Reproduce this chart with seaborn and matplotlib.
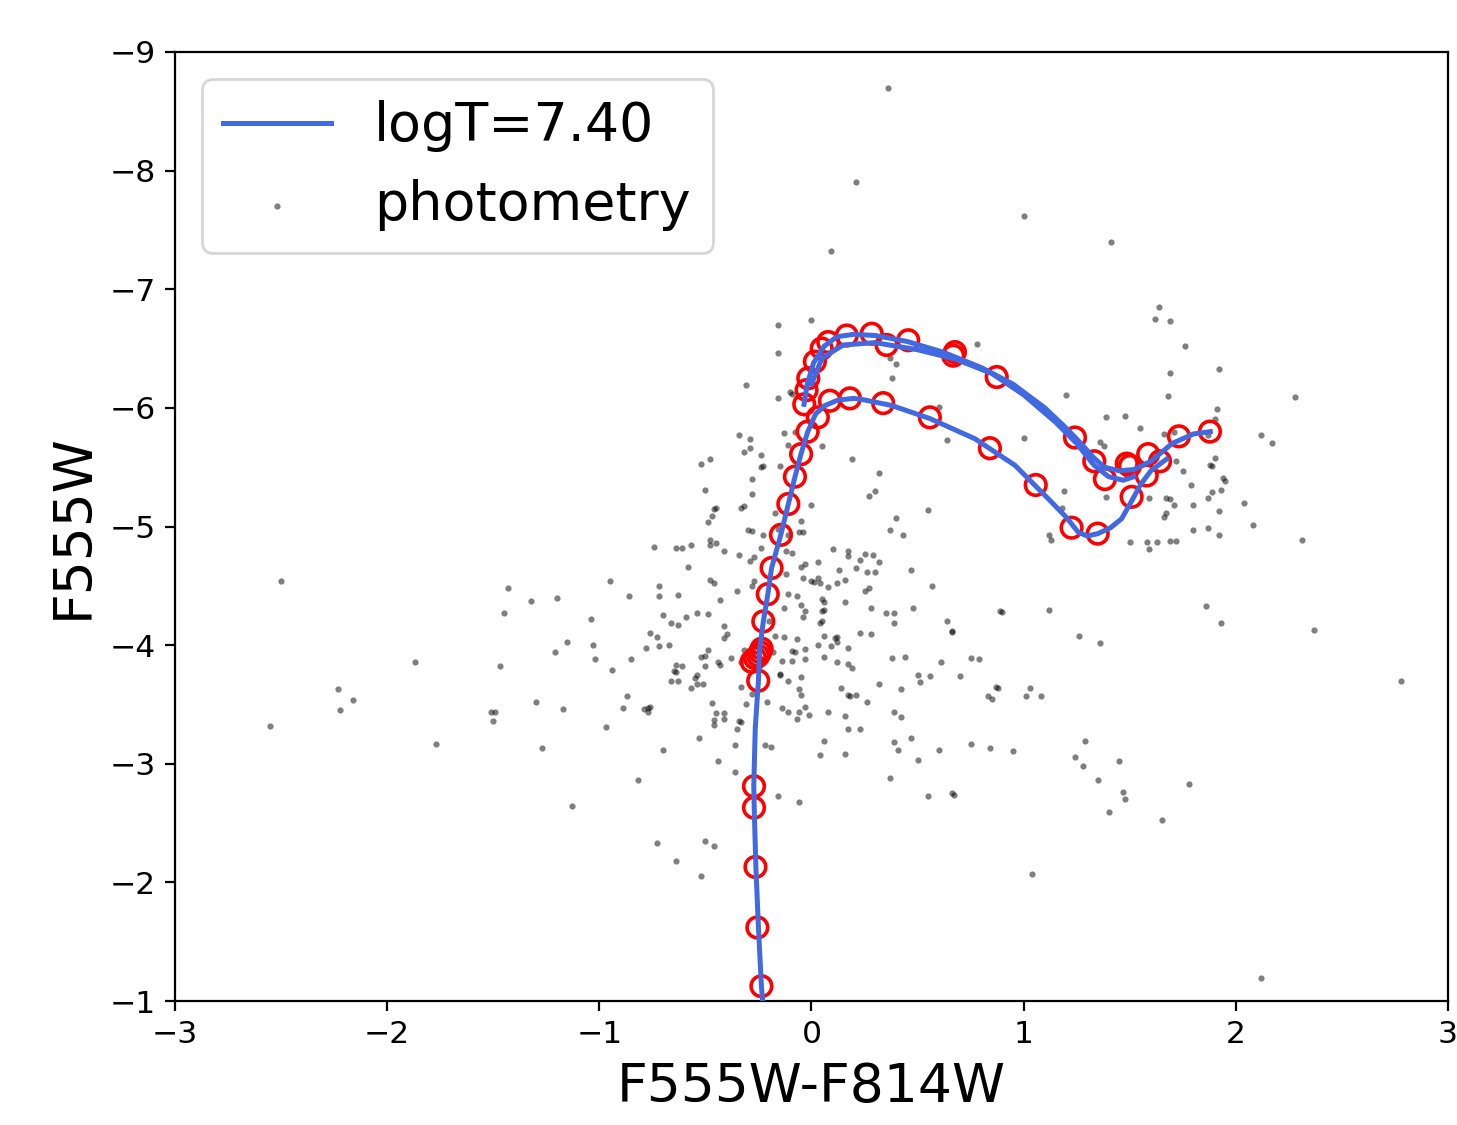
import matplotlib
matplotlib.use("Agg")
import matplotlib.pyplot as plt
import seaborn as sns

# photometry (colour, magnitude)
phot_x = [-0.16, 0.00, -0.16, 0.36, 0.21, 0.09, 1.00, 1.41, 0.78, 0.37, 0.40, 1.64, 1.62, 1.69, 1.76, 1.92, 1.69,
          -2.50, -1.87, -2.23, -2.16, -2.22, -2.55, -1.77, -1.51, -1.50, 1.78, 1.65, 2.12,
          1.68, 2.28, 1.91, 1.90, 1.55, 1.66, 1.71, 2.12, 2.17, 1.87, 1.90, 1.89, 1.88, 1.72, 1.75, 1.94, 1.95, 1.79,
          1.93, 1.89, 1.87, 1.59, 1.67, 1.69, 1.71, 1.80, 2.04, 1.92, 1.67, 1.66, 2.08, 2.31, 1.80, 1.87, 1.92, 1.58,
          1.59, 1.63, 1.69, 1.72, 1.86, 1.93, 2.37, 2.78,
          0.17, 0.18, 0.21, 0.26, 0.08, 0.16, 0.39, 0.42, 0.17, 0.23, 0.06, 0.39, 0.41, 0.47, 0.04, 0.16, 0.50, 0.60,
          0.37, 0.55, 0.66, 0.67, 0.75, 0.84, 0.95, 0.83, 0.85, 1.01, 1.08, 1.29, 1.24, 1.28, 1.45, 1.35, 1.47, 1.48,
          1.40, 1.04,
          -1.30, -1.17, -1.27, -1.13, -0.97, -0.89, -0.87, -0.79, -0.77, -0.76, -0.77, -0.70, -0.82, -0.73, -0.64,
          -0.50, -0.46, -0.52, -0.53, -0.44, -0.36, -0.36, -0.35, -0.33, -0.34, -0.47, -0.45, -0.46, -0.46, -0.41,
          -0.41, -0.31, -0.28, -0.21, -0.22, -0.19, -0.16, -0.06, -0.14, -0.11, -0.07, -0.06, -0.03, -0.01, -0.05,
          -1.49,
          -0.31, -0.16, -0.10, -0.09, -0.34, -0.29, -0.32, -0.29, -0.13, -0.08, -0.11, -0.24, -0.52, -0.48, -0.24,
          -0.23, -0.15, -0.28, -0.50, -0.28, -0.46, -0.45, -0.33, -0.32, -0.47, -0.49, 0.00, -0.05, -0.17, -0.30,
          -0.28, -0.23, -0.16, -0.11, -0.06, -0.04, -0.74, -0.64, -0.61, -0.57, -0.48, -0.48, -0.45, -0.41, -0.34,
          -0.27, -0.29, -0.24, -0.12, -0.09, -0.58, -0.05, -0.03, -0.04, -0.12, 0.00, 0.01, -0.27, -0.48, -0.46,
          -0.95, -0.72, -1.43, -1.32, -1.20, -0.86, -0.72, -0.63, -0.43, -0.35, -0.28, -0.11, -0.07, -0.13, -0.05,
          -0.03, -0.04, -1.45, -1.04, -0.70, -0.66, -0.63, -0.59, -0.54, -0.49, -0.41, -0.41, -0.40, -0.20, -0.17,
          -0.13, -0.07, -0.08, -0.09, -0.03, -1.15, -1.21, -1.03, -1.02, -1.47, -0.94, -0.85, -0.78, -0.76, -0.73,
          -0.72, -0.67, -0.64, -0.61, -0.64, -0.65, -0.66, -0.63, -0.57, -0.55, -0.54, -0.54, -0.51, -0.52, -0.50,
          -0.50, -0.49, -0.44, -0.43, -0.38, -0.33, -0.32, -0.33, -0.18, -0.14, -0.09, -0.03, -0.15, -0.15, -0.11,
          -0.05, -0.06,
          0.38, 0.60, 0.05, 0.19, 0.32, 0.30, 0.27, 0.64, 1.00, 1.20, 1.39, 1.48, 1.36, 1.38, 1.19, 1.18, 1.39, 0.55,
          0.40, 0.37, 0.43, 1.12, 1.13, 1.50, 0.10, 0.17, 0.17, 0.23, 0.25, 0.29, 0.32, 0.03, 0.13, 0.21, 0.26, 0.30,
          0.47, 0.03, 0.04, 0.08, 0.12, 0.16, 0.25, 0.27, 0.57, 0.05, 0.06, 0.16, 0.28, 0.35, 0.39, 0.39, 0.48, 0.05,
          0.06, 0.05, 0.04, 0.64, 0.66, 0.66, 0.89, 0.90, 1.12, 1.26, 1.36, 0.06, 0.11, 0.12, 0.12, 0.03, 0.09, 0.17,
          0.23, 0.28, 0.06, 0.12, 0.17, 0.19, 0.38, 0.44, 0.61, 0.75, 0.79, 0.50, 0.51, 0.56, 0.70, 0.32, 0.14, 0.42,
          0.87, 0.88, 1.03]
phot_y = [-6.70, -6.74, -6.46, -8.70, -7.90, -7.32, -7.62, -7.40, -6.54, -6.42, -6.37, -6.85, -6.75, -6.73, -6.52,
          -6.33, -6.29,
          -4.54, -3.86, -3.63, -3.54, -3.45, -3.32, -3.17, -3.44, -3.36, -2.83, -2.53, -1.19,
          -6.10, -6.09, -5.99, -5.91, -5.83, -5.78, -5.80, -5.77, -5.70, -5.77, -5.58, -5.51, -5.52, -5.55, -5.47,
          -5.41, -5.38, -5.35, -5.31, -5.29, -5.24, -5.24, -5.24, -5.23, -5.18, -5.18, -5.20, -5.13, -5.11, -5.08,
          -5.01, -4.89, -4.97, -4.99, -4.93, -4.87, -4.81, -4.87, -4.88, -4.88, -4.33, -4.19, -4.13, -3.70,
          -3.58, -3.57, -3.58, -3.52, -3.44, -3.40, -3.44, -3.39, -3.29, -3.29, -3.19, -3.18, -3.12, -3.22, -3.07,
          -3.08, -3.03, -3.12, -2.88, -2.73, -2.75, -2.74, -3.17, -3.13, -3.11, -3.57, -3.55, -3.57, -3.57, -3.19,
          -3.06, -2.98, -3.02, -2.86, -2.76, -2.70, -2.59, -2.07,
          -3.52, -3.46, -3.13, -2.64, -3.31, -3.47, -3.57, -3.46, -3.47, -3.48, -3.44, -3.12, -2.86, -2.33, -2.18,
          -2.35, -2.31, -2.05, -3.22, -3.02, -2.93, -3.16, -3.29, -3.35, -3.36, -3.51, -3.43, -3.37, -3.33, -3.43,
          -3.38, -3.50, -3.59, -3.52, -3.16, -3.14, -2.73, -2.68, -3.47, -3.44, -3.38, -3.44, -3.48, -3.41, -3.58,
          -3.44,
          -6.19, -6.08, -6.13, -6.12, -5.77, -5.74, -5.63, -5.66, -5.79, -5.80, -5.69, -5.60, -5.53, -5.57, -5.50,
          -5.51, -5.51, -5.40, -5.31, -5.27, -5.15, -5.16, -5.16, -5.17, -5.09, -5.04, -5.18, -5.05, -5.11, -4.97,
          -4.96, -4.93, -4.98, -4.93, -4.95, -4.95, -4.83, -4.82, -4.82, -4.84, -4.89, -4.84, -4.86, -4.79, -4.76,
          -4.74, -4.71, -4.82, -4.79, -4.78, -4.66, -4.66, -4.68, -4.57, -4.60, -4.54, -4.53, -4.54, -4.55, -4.52,
          -4.54, -4.50, -4.48, -4.37, -4.40, -4.41, -4.41, -4.42, -4.38, -4.46, -4.50, -4.43, -4.41, -4.31, -4.34,
          -4.29, -4.24, -4.27, -4.22, -4.25, -4.19, -4.17, -4.24, -4.27, -4.26, -4.16, -4.06, -4.09, -4.20, -4.08,
          -4.07, -4.05, -3.94, -3.95, -3.97, -4.03, -3.94, -4.00, -3.88, -3.82, -3.79, -3.88, -3.98, -4.10, -4.07,
          -3.99, -4.00, -3.83, -3.82, -3.77, -3.78, -3.70, -3.70, -3.64, -3.72, -3.75, -3.67, -3.67, -3.90, -3.91,
          -3.82, -3.96, -3.86, -3.83, -3.89, -3.86, -3.96, -3.65, -3.94, -3.87, -3.87, -3.88, -3.76, -3.75, -3.70,
          -3.73, -3.63,
          -6.25, -6.01, -5.68, -5.57, -5.45, -5.30, -5.26, -5.73, -5.75, -6.11, -5.92, -5.93, -5.71, -5.68, -5.30,
          -5.16, -5.25, -5.14, -5.07, -4.97, -4.93, -4.93, -4.89, -4.87, -4.81, -4.79, -4.75, -4.72, -4.77, -4.76,
          -4.70, -4.70, -4.63, -4.65, -4.62, -4.62, -4.63, -4.57, -4.52, -4.49, -4.52, -4.55, -4.46, -4.48, -4.50,
          -4.39, -4.36, -4.36, -4.31, -4.27, -4.27, -4.19, -4.31, -4.29, -4.30, -4.20, -4.19, -4.20, -4.11, -4.12,
          -4.29, -4.28, -4.30, -4.08, -4.02, -4.08, -4.06, -4.07, -4.03, -4.00, -3.99, -3.98, -4.10, -4.09, -3.90,
          -3.86, -3.84, -3.81, -3.89, -3.90, -3.86, -3.89, -3.88, -3.75, -3.69, -3.74, -3.74, -3.67, -3.64, -3.63,
          -3.65, -3.64, -3.64]

# isochrone track, drawn as separate pieces
iso1_x = [-0.23, -0.236, -0.25, -0.262, -0.27, -0.272, -0.265, -0.25, -0.245, -0.227, -0.206, -0.188, -0.144,
          -0.109, -0.078, -0.049, -0.018, 0.02, 0.064, 0.125, 0.2, 0.252, 0.378, 0.558, 0.77, 0.959, 1.116, 1.2,
          1.258, 1.3, 1.35, 1.41, 1.462, 1.515, 1.55, 1.6, 1.675]
iso1_y = [-1.0, -1.125, -1.62, -2.13, -2.63, -2.81, -3.3, -3.7, -3.95, -4.2, -4.425, -4.65, -4.934, -5.19, -5.417,
          -5.614, -5.797, -5.95, -6.02, -6.066, -6.08, -6.066, -6.02, -5.91, -5.74, -5.516, -5.234, -5.08, -4.95,
          -4.92, -4.94, -4.99, -5.066, -5.234, -5.35, -5.47, -5.57]
iso2_x = [-0.035, -0.02, 0.01, 0.06, 0.12, 0.2, 0.3, 0.45, 0.62, 0.8, 0.95, 1.1, 1.2, 1.27, 1.33, 1.38, 1.45, 1.52,
          1.6, 1.7, 1.8, 1.88]
iso2_y = [-6.03, -6.2, -6.38, -6.52, -6.6, -6.62, -6.61, -6.56, -6.47, -6.34, -6.2, -6.0, -5.83, -5.7, -5.58, -5.5,
          -5.47, -5.48, -5.55, -5.7, -5.78, -5.8]
iso3_x = [0.0, 0.05, 0.15, 0.3, 0.5, 0.68, 0.85, 1.0, 1.15, 1.25, 1.33, 1.4, 1.47, 1.52]
iso3_y = [-6.2, -6.42, -6.53, -6.55, -6.49, -6.41, -6.29, -6.11, -5.88, -5.7, -5.52, -5.42, -5.39, -5.42]

# red circles: model points matched on the track
circ_x = [-0.236, -0.255, -0.264, -0.271, -0.271, -0.251, -0.251, -0.266, -0.282, -0.235, -0.242, -0.227, -0.206,
          -0.188, -0.144, -0.109, -0.078, -0.049, -0.018, -0.034, -0.023, -0.015, 0.03,
          0.087, 0.181, 0.338, 0.558, 0.841, 1.057, 1.226, 1.349, 1.509,
          1.242, 1.333, 1.383, 1.486, 1.501, 1.878, 1.732, 1.587, 1.643, 1.580,
          0.079, 0.166, 0.284, 0.354, 0.456, 0.668, 0.676, 0.048, 0.016, 0.873]
circ_y = [-1.125, -1.62, -2.13, -2.63, -2.81, -3.70, -3.91, -3.89, -3.86, -3.97, -3.94, -4.20, -4.43,
          -4.65, -4.93, -5.19, -5.42, -5.61, -5.80, -6.03, -6.15, -6.25, -5.92,
          -6.06, -6.08, -6.04, -5.92, -5.66, -5.35, -4.99, -4.94, -5.25,
          -5.75, -5.55, -5.40, -5.53, -5.51, -5.80, -5.76, -5.61, -5.55, -5.43,
          -6.555, -6.61, -6.625, -6.53, -6.57, -6.44, -6.47, -6.50, -6.39, -6.26]

fig = plt.figure(figsize=(7.285, 5.625), dpi=200)
ax = fig.add_axes([0.1201, 0.1102, 0.8737, 0.8436])

sns.scatterplot(x=phot_x, y=phot_y, ax=ax, color="black", alpha=0.5, s=5, linewidth=0,
                label="photometry", zorder=1)
sns.scatterplot(x=circ_x, y=circ_y, ax=ax, marker="o", s=55, facecolor="none", edgecolor="red",
                linewidth=1.3, zorder=2)
sns.lineplot(x=iso1_x, y=iso1_y, ax=ax, sort=False, estimator=None, color="royalblue", lw=1.8,
             label="logT=7.40", zorder=3)
sns.lineplot(x=iso2_x, y=iso2_y, ax=ax, sort=False, estimator=None, color="royalblue", lw=1.8, zorder=3)
sns.lineplot(x=iso3_x, y=iso3_y, ax=ax, sort=False, estimator=None, color="royalblue", lw=1.8, zorder=3)

ax.set_xlim(-3, 3)
ax.set_ylim(-1, -9)
ax.set_xticks([-3, -2, -1, 0, 1, 2, 3])
ax.set_yticks([-9, -8, -7, -6, -5, -4, -3, -2, -1])
ax.tick_params(labelsize=11.3)
ax.set_xlabel("F555W-F814W", fontsize=19.3)
ax.set_ylabel("F555W", fontsize=19.3)

handles, labels = ax.get_legend_handles_labels()
order = [labels.index("logT=7.40"), labels.index("photometry")]
ax.legend([handles[i] for i in order], [labels[i] for i in order], loc="upper left", fontsize=19.4)

fig.savefig("out.png", dpi=200)
